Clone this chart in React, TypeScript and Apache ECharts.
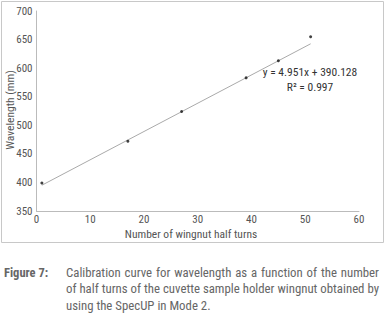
import React, { useEffect, useRef } from "react";
import * as echarts from "echarts";

const halfTurns = [1, 17, 27, 39, 45, 51];
const wavelengths = [399, 472, 524, 583, 613, 655];
const trendX = [1, 51];
const trendY = [395.1, 642.6];
const yTicks = [350, 400, 450, 500, 550, 600, 650, 700];
const xTicks = [0, 10, 20, 30, 40, 50, 60];
const equationText = "y = 4.951x + 390.128";
const r2Text = "R\u00b2 = 0.997";
const xTitle = "Number of wingnut half turns";
const yTitle = "Wavelength (mm)";
const captionLabel = "Figure 7:";
const captionLines = [
  "Calibration curve for wavelength as a function of the number",
  "of half turns of the cuvette sample holder wingnut obtained by",
  "using the SpecUP in Mode 2.",
];

const FONT = "'Liberation Sans Narrow', 'Roboto Condensed', Arial Narrow, sans-serif";
const TXT = "#555";
const CAP_FONT = `12.8px ${FONT}`;
const CAP_LEFT = 66;
const CAP_RIGHT = 379;

function justifiedLine(text: string, y: number, justify: boolean) {
  if (!justify) {
    return [{ type: "text", x: CAP_LEFT, y, style: { text, fill: "#666", font: CAP_FONT, verticalAlign: "middle" } }];
  }
  const ctx = document.createElement("canvas").getContext("2d")!;
  ctx.font = CAP_FONT;
  const words = text.split(" ");
  const widths = words.map((w) => ctx.measureText(w).width);
  const total = widths.reduce((a, b) => a + b, 0);
  const gap = (CAP_RIGHT - CAP_LEFT - total) / (words.length - 1);
  let x = CAP_LEFT;
  return words.map((w, i) => {
    const el = { type: "text", x, y, style: { text: w, fill: "#666", font: CAP_FONT, verticalAlign: "middle" } };
    x += widths[i] + gap;
    return el;
  });
}

export default function App() {
  const ref = useRef<HTMLDivElement>(null);
  useEffect(() => {
    if (!ref.current) return;
    const chart = echarts.init(ref.current, null, { renderer: "svg" });
    chart.setOption({
      animation: false,
      backgroundColor: "#fff",
      textStyle: { fontFamily: FONT },
      grid: { left: 36.5, right: 27, top: 11, bottom: 104, containLabel: false, outerBoundsMode: "none" },
      xAxis: {
        type: "value",
        min: xTicks[0],
        max: xTicks[xTicks.length - 1],
        interval: 10,
        axisLine: { show: true, lineStyle: { color: "#bbb", width: 1 } },
        axisTick: { show: false },
        splitLine: { show: false },
        axisLabel: { color: TXT, fontSize: 11, fontFamily: FONT, margin: 3 },
      },
      yAxis: {
        type: "value",
        min: yTicks[0],
        max: yTicks[yTicks.length - 1],
        interval: 50,
        axisLine: { show: true, lineStyle: { color: "#bbb", width: 1 } },
        axisTick: { show: false },
        splitLine: { show: false },
        axisLabel: { color: TXT, fontSize: 11, fontFamily: FONT, margin: 4 },
      },
      series: [
        {
          type: "line",
          data: trendX.map((x, i) => [x, trendY[i]]),
          showSymbol: false,
          lineStyle: { color: "#aaa", width: 1 },
          z: 1,
        },
        {
          type: "scatter",
          data: halfTurns.map((x, i) => [x, wavelengths[i]]),
          symbolSize: 3,
          itemStyle: { color: "#111" },
          z: 3,
        },
      ],
      graphic: [
        {
          type: "rect",
          shape: { x: 1.5, y: 1.5, width: 382, height: 241 },
          style: { fill: "none", stroke: "#c8c8c8", lineWidth: 1 },
          z: -1,
        },
        {
          type: "text",
          x: 10,
          y: 110,
          rotation: Math.PI / 2,
          style: { text: yTitle, fill: TXT, font: `11.5px ${FONT}`, align: "center", verticalAlign: "middle" },
        },
        {
          type: "text",
          x: 191,
          y: 234,
          style: { text: xTitle, fill: TXT, font: `11.5px ${FONT}`, align: "center", verticalAlign: "middle" },
        },
        {
          type: "text",
          x: 310,
          y: 72,
          style: { text: equationText, fill: "#333", font: `11.5px ${FONT}`, align: "center", verticalAlign: "middle" },
        },
        {
          type: "text",
          x: 310,
          y: 87,
          style: { text: r2Text, fill: "#333", font: `11.5px ${FONT}`, align: "center", verticalAlign: "middle" },
        },
        {
          type: "text",
          x: 4,
          y: 272,
          style: { text: captionLabel, fill: "#666", font: `bold 12.5px ${FONT}`, verticalAlign: "middle" },
        },
        ...captionLines.flatMap((t, i) => justifiedLine(t, 272 + i * 16.5, i < captionLines.length - 1)),
      ],
    });
    return () => chart.dispose();
  }, []);
  return (
    <div
      ref={ref}
      style={{ position: "fixed", left: 0, top: 0, width: 386, height: 315, background: "#fff" }}
    />
  );
}
